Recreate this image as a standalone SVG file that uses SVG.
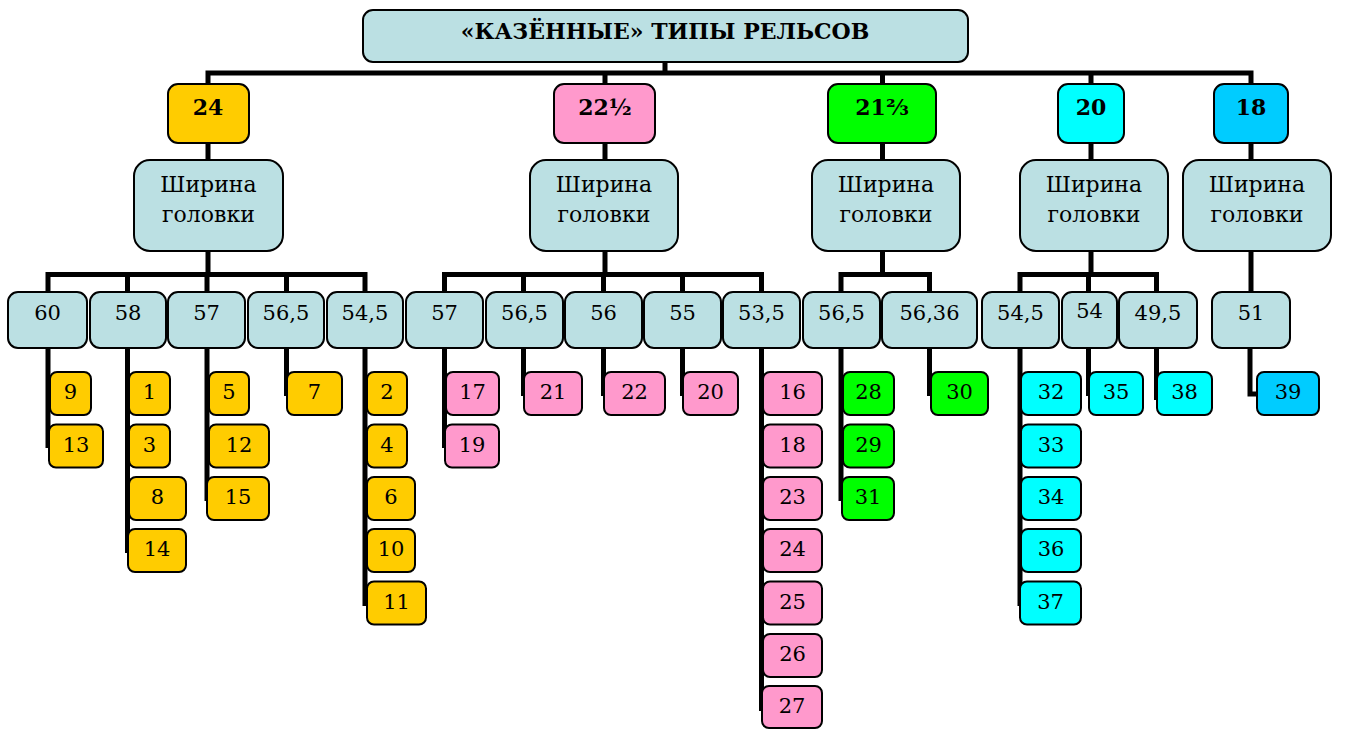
<svg xmlns="http://www.w3.org/2000/svg" width="1345" height="729" viewBox="0 0 1345 729">
<style>
rect{stroke:#000;stroke-width:2}
.t{fill:#BBE0E3}
.y{fill:#FFCC00}.p{fill:#FF99CC}.g{fill:#00FF00}.c{fill:#00FFFF}.b{fill:#00CCFF}
text{text-anchor:middle;fill:#000}
.h{font-size:22px;font-weight:bold}
.l1{font-size:22px;font-weight:bold}
.l2{font-size:22px}
.l3{font-size:21px}
.lf{font-size:21px}
#conn path{fill:none;stroke:#000;stroke-width:5;stroke-linejoin:miter}
</style>
<rect width="1345" height="729" fill="#fff" style="stroke:none"/>
<g id="conn">
<path d="M665 62V73M208 84V73H1251V84M605 73V84M882.5 73V84M1091 73V84"/>
<path d="M208 143V160M605 143V160M882.5 143V160M1091 143V160M1251 143V160"/>
<path d="M208 251V274.5M48 292V274.5H365V292M127.5 274.5V292M207 274.5V292M286.5 274.5V292"/>
<path d="M605 251V274.5M444.5 292V274.5H761.5V292M523.5 274.5V292M603.5 274.5V292M682.5 274.5V292"/>
<path d="M882.5 251V274.5M841 292V274.5H929.5V292"/>
<path d="M1091 251V274.5M1020 292V274.5H1156.5V292M1088.5 274.5V292"/>
<path d="M1251 251V292"/>
<path d="M48 348V448M127.5 348V553M207 348V501M286.5 348V396M365 348V606"/>
<path d="M444.5 348V448M523.5 348V396M603.5 348V396M682.5 348V396M761.5 348V711"/>
<path d="M841 348V501M929.5 348V396M1020 348V606M1088.5 348V396M1156.5 348V400M1250 348V394H1259"/>
</g>
<g id="title"><rect class="t" x="363" y="10" width="605" height="52" rx="10"/><text style="font-family:'DejaVu Serif'" class="h" x="665" y="39">«КАЗЁННЫЕ» ТИПЫ РЕЛЬСОВ</text></g>
<g id="n24"><rect class="y" x="168" y="84" width="81" height="59" rx="10"/><text style="font-family:'DejaVu Serif'" class="l1" x="208" y="115">24</text></g>
<g id="n22"><rect class="p" x="554" y="84" width="101" height="59" rx="10"/><text style="font-family:'DejaVu Serif'" class="l1" x="605" y="115">22½</text></g>
<g id="n21"><rect class="g" x="828" y="84" width="108" height="59" rx="10"/><text style="font-family:'DejaVu Serif'" class="l1" x="882" y="115">21⅔</text></g>
<g id="n20"><rect class="c" x="1058" y="84" width="66" height="59" rx="10"/><text style="font-family:'DejaVu Serif'" class="l1" x="1091" y="115">20</text></g>
<g id="n18"><rect class="b" x="1214" y="84" width="74" height="59" rx="10"/><text style="font-family:'DejaVu Serif'" class="l1" x="1251" y="115">18</text></g>
<g id="w1"><rect class="t" x="134" y="160" width="149" height="91" rx="16"/><text style="font-family:'DejaVu Serif'" class="l2" x="208.5" y="192">Ширина</text><text style="font-family:'DejaVu Serif'" class="l2" x="208.5" y="222">головки</text></g>
<g id="w2"><rect class="t" x="530" y="160" width="148" height="91" rx="16"/><text style="font-family:'DejaVu Serif'" class="l2" x="604" y="192">Ширина</text><text style="font-family:'DejaVu Serif'" class="l2" x="604" y="222">головки</text></g>
<g id="w3"><rect class="t" x="812" y="160" width="148" height="91" rx="16"/><text style="font-family:'DejaVu Serif'" class="l2" x="886" y="192">Ширина</text><text style="font-family:'DejaVu Serif'" class="l2" x="886" y="222">головки</text></g>
<g id="w4"><rect class="t" x="1020" y="160" width="148" height="91" rx="16"/><text style="font-family:'DejaVu Serif'" class="l2" x="1094" y="192">Ширина</text><text style="font-family:'DejaVu Serif'" class="l2" x="1094" y="222">головки</text></g>
<g id="w5"><rect class="t" x="1183" y="160" width="148" height="91" rx="16"/><text style="font-family:'DejaVu Serif'" class="l2" x="1257" y="192">Ширина</text><text style="font-family:'DejaVu Serif'" class="l2" x="1257" y="222">головки</text></g>
<g id="a1"><rect class="t" x="8" y="292" width="79" height="56" rx="10"/><text style="font-family:'DejaVu Serif'" class="l3" x="47.5" y="320">60</text></g>
<g id="a2"><rect class="t" x="90" y="292" width="76" height="56" rx="10"/><text style="font-family:'DejaVu Serif'" class="l3" x="128" y="320">58</text></g>
<g id="a3"><rect class="t" x="168" y="292" width="77" height="56" rx="10"/><text style="font-family:'DejaVu Serif'" class="l3" x="206.5" y="320">57</text></g>
<g id="a4"><rect class="t" x="248" y="292" width="76" height="56" rx="10"/><text style="font-family:'DejaVu Serif'" class="l3" x="286" y="320">56,5</text></g>
<g id="a5"><rect class="t" x="327" y="292" width="76" height="56" rx="10"/><text style="font-family:'DejaVu Serif'" class="l3" x="365" y="320">54,5</text></g>
<g id="b1"><rect class="t" x="406" y="292" width="77" height="56" rx="10"/><text style="font-family:'DejaVu Serif'" class="l3" x="444.5" y="320">57</text></g>
<g id="b2"><rect class="t" x="486" y="292" width="77" height="56" rx="10"/><text style="font-family:'DejaVu Serif'" class="l3" x="524.5" y="320">56,5</text></g>
<g id="b3"><rect class="t" x="565" y="292" width="77" height="56" rx="10"/><text style="font-family:'DejaVu Serif'" class="l3" x="603.5" y="320">56</text></g>
<g id="b4"><rect class="t" x="644" y="292" width="77" height="56" rx="10"/><text style="font-family:'DejaVu Serif'" class="l3" x="682.5" y="320">55</text></g>
<g id="b5"><rect class="t" x="723" y="292" width="77" height="56" rx="10"/><text style="font-family:'DejaVu Serif'" class="l3" x="761.5" y="320">53,5</text></g>
<g id="c1"><rect class="t" x="803" y="292" width="77" height="56" rx="10"/><text style="font-family:'DejaVu Serif'" class="l3" x="841.5" y="320">56,5</text></g>
<g id="c2"><rect class="t" x="882" y="292" width="95" height="56" rx="10"/><text style="font-family:'DejaVu Serif'" class="l3" x="929.5" y="320">56,36</text></g>
<g id="d1"><rect class="t" x="982" y="292" width="77" height="56" rx="10"/><text style="font-family:'DejaVu Serif'" class="l3" x="1020.5" y="320">54,5</text></g>
<g id="d2"><rect class="t" x="1062" y="292" width="55" height="56" rx="10"/><text style="font-family:'DejaVu Serif'" class="l3" x="1089.5" y="318">54</text></g>
<g id="d3"><rect class="t" x="1119" y="292" width="78" height="56" rx="10"/><text style="font-family:'DejaVu Serif'" class="l3" x="1158" y="320">49,5</text></g>
<g id="e1"><rect class="t" x="1212" y="292" width="78" height="56" rx="10"/><text style="font-family:'DejaVu Serif'" class="l3" x="1251" y="320">51</text></g>
<g id="r9"><rect class="y" x="50" y="372" width="41" height="43" rx="7"/><text style="font-family:'DejaVu Serif'" class="lf" x="70.5" y="399">9</text></g>
<g id="r13"><rect class="y" x="49" y="424.5" width="54" height="43" rx="7"/><text style="font-family:'DejaVu Serif'" class="lf" x="76" y="451.5">13</text></g>
<g id="r1"><rect class="y" x="129" y="372" width="41" height="43" rx="7"/><text style="font-family:'DejaVu Serif'" class="lf" x="149.5" y="399">1</text></g>
<g id="r3"><rect class="y" x="129" y="424.5" width="41" height="43" rx="7"/><text style="font-family:'DejaVu Serif'" class="lf" x="149.5" y="451.5">3</text></g>
<g id="r8"><rect class="y" x="129" y="477" width="57" height="43" rx="7"/><text style="font-family:'DejaVu Serif'" class="lf" x="157.5" y="504">8</text></g>
<g id="r14"><rect class="y" x="128" y="529" width="58" height="43" rx="7"/><text style="font-family:'DejaVu Serif'" class="lf" x="157" y="556">14</text></g>
<g id="r5"><rect class="y" x="209" y="372" width="40" height="43" rx="7"/><text style="font-family:'DejaVu Serif'" class="lf" x="229" y="399">5</text></g>
<g id="r12"><rect class="y" x="209" y="424.5" width="60" height="43" rx="7"/><text style="font-family:'DejaVu Serif'" class="lf" x="239" y="451.5">12</text></g>
<g id="r15"><rect class="y" x="207" y="477" width="62" height="43" rx="7"/><text style="font-family:'DejaVu Serif'" class="lf" x="238" y="504">15</text></g>
<g id="r7"><rect class="y" x="287" y="372" width="55" height="43" rx="7"/><text style="font-family:'DejaVu Serif'" class="lf" x="314.5" y="399">7</text></g>
<g id="r2"><rect class="y" x="367" y="372" width="40" height="43" rx="7"/><text style="font-family:'DejaVu Serif'" class="lf" x="387" y="399">2</text></g>
<g id="r4"><rect class="y" x="367" y="424.5" width="40" height="43" rx="7"/><text style="font-family:'DejaVu Serif'" class="lf" x="387" y="451.5">4</text></g>
<g id="r6"><rect class="y" x="367" y="477" width="48" height="43" rx="7"/><text style="font-family:'DejaVu Serif'" class="lf" x="391" y="504">6</text></g>
<g id="r10"><rect class="y" x="367" y="529" width="48" height="43" rx="7"/><text style="font-family:'DejaVu Serif'" class="lf" x="391" y="556">10</text></g>
<g id="r11"><rect class="y" x="367" y="581.5" width="59" height="43" rx="7"/><text style="font-family:'DejaVu Serif'" class="lf" x="396.5" y="608.5">11</text></g>
<g id="r17"><rect class="p" x="446" y="372" width="53" height="43" rx="7"/><text style="font-family:'DejaVu Serif'" class="lf" x="472.5" y="399">17</text></g>
<g id="r19"><rect class="p" x="445" y="424.5" width="54" height="43" rx="7"/><text style="font-family:'DejaVu Serif'" class="lf" x="472" y="451.5">19</text></g>
<g id="r21"><rect class="p" x="524" y="372" width="58" height="43" rx="7"/><text style="font-family:'DejaVu Serif'" class="lf" x="553" y="399">21</text></g>
<g id="r22"><rect class="p" x="604" y="372" width="61" height="43" rx="7"/><text style="font-family:'DejaVu Serif'" class="lf" x="634.5" y="399">22</text></g>
<g id="r20"><rect class="p" x="683" y="372" width="55" height="43" rx="7"/><text style="font-family:'DejaVu Serif'" class="lf" x="710.5" y="399">20</text></g>
<g id="r16"><rect class="p" x="763" y="372" width="59" height="43" rx="7"/><text style="font-family:'DejaVu Serif'" class="lf" x="792.5" y="399">16</text></g>
<g id="r18"><rect class="p" x="763" y="424.5" width="59" height="43" rx="7"/><text style="font-family:'DejaVu Serif'" class="lf" x="792.5" y="451.5">18</text></g>
<g id="r23"><rect class="p" x="763" y="477" width="59" height="43" rx="7"/><text style="font-family:'DejaVu Serif'" class="lf" x="792.5" y="504">23</text></g>
<g id="r24"><rect class="p" x="763" y="529" width="59" height="43" rx="7"/><text style="font-family:'DejaVu Serif'" class="lf" x="792.5" y="556">24</text></g>
<g id="r25"><rect class="p" x="763" y="581.5" width="59" height="43" rx="7"/><text style="font-family:'DejaVu Serif'" class="lf" x="792.5" y="608.5">25</text></g>
<g id="r26"><rect class="p" x="763" y="634" width="59" height="43" rx="7"/><text style="font-family:'DejaVu Serif'" class="lf" x="792.5" y="661">26</text></g>
<g id="r27"><rect class="p" x="762" y="686" width="60" height="42" rx="7"/><text style="font-family:'DejaVu Serif'" class="lf" x="792" y="713">27</text></g>
<g id="r28"><rect class="g" x="843" y="372" width="51" height="43" rx="7"/><text style="font-family:'DejaVu Serif'" class="lf" x="868.5" y="399">28</text></g>
<g id="r29"><rect class="g" x="843" y="424.5" width="51" height="43" rx="7"/><text style="font-family:'DejaVu Serif'" class="lf" x="868.5" y="451.5">29</text></g>
<g id="r31"><rect class="g" x="842" y="477" width="52" height="43" rx="7"/><text style="font-family:'DejaVu Serif'" class="lf" x="868" y="504">31</text></g>
<g id="r30"><rect class="g" x="931" y="372" width="57" height="43" rx="7"/><text style="font-family:'DejaVu Serif'" class="lf" x="959.5" y="399">30</text></g>
<g id="r32"><rect class="c" x="1021" y="372" width="60" height="43" rx="7"/><text style="font-family:'DejaVu Serif'" class="lf" x="1051" y="399">32</text></g>
<g id="r33"><rect class="c" x="1021" y="424.5" width="60" height="43" rx="7"/><text style="font-family:'DejaVu Serif'" class="lf" x="1051" y="451.5">33</text></g>
<g id="r34"><rect class="c" x="1021" y="477" width="60" height="43" rx="7"/><text style="font-family:'DejaVu Serif'" class="lf" x="1051" y="504">34</text></g>
<g id="r36"><rect class="c" x="1021" y="529" width="60" height="43" rx="7"/><text style="font-family:'DejaVu Serif'" class="lf" x="1051" y="556">36</text></g>
<g id="r37"><rect class="c" x="1020" y="581.5" width="61" height="43" rx="7"/><text style="font-family:'DejaVu Serif'" class="lf" x="1050.5" y="608.5">37</text></g>
<g id="r35"><rect class="c" x="1089" y="372" width="54" height="43" rx="7"/><text style="font-family:'DejaVu Serif'" class="lf" x="1116" y="399">35</text></g>
<g id="r38"><rect class="c" x="1157" y="372" width="55" height="43" rx="7"/><text style="font-family:'DejaVu Serif'" class="lf" x="1184.5" y="399">38</text></g>
<g id="r39"><rect class="b" x="1257" y="372" width="62" height="43" rx="7"/><text style="font-family:'DejaVu Serif'" class="lf" x="1288" y="399">39</text></g>
</svg>
